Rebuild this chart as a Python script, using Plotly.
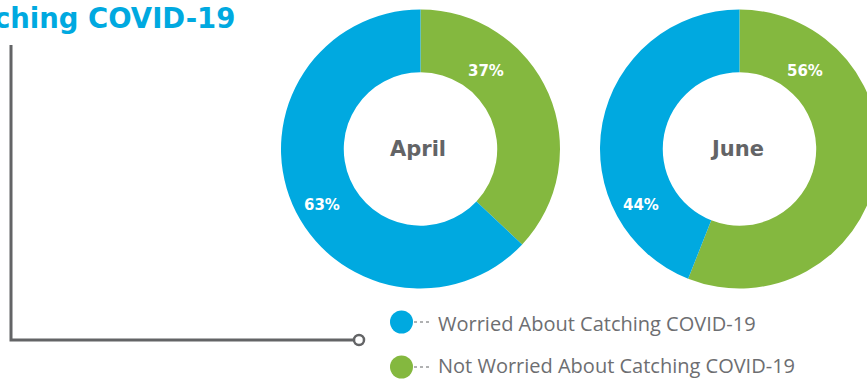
import plotly.graph_objects as go

# ---- data -------------------------------------------------------------
months = ["April", "June"]
worried = [63, 44]
not_worried = [37, 56]
series_names = ["Worried About Catching COVID-19", "Not Worried About Catching COVID-19"]
title_text = "Catching COVID-19"

# ---- styling ----------------------------------------------------------
W, H = 880, 380
BLUE = "#00A9E0"
GREEN = "#84B83F"
GRAY = "#636466"
TEXT_GRAY = "#6D6E71"
HEAVY = "DejaVu Sans"

ring_centers = [(420.5, 149), (739.5, 149)]   # pixel centres of the two rings
R = 139.5                                     # outer radius in px
HOLE = 0.55
# fixed label anchors relative to each ring centre (px)
label_offsets = {"not_worried": (65, -78), "worried": (-99, 56)}

fig = go.Figure()

annotations = []
for i, month in enumerate(months):
    cx, cy = ring_centers[i]
    fig.add_trace(go.Pie(
        labels=[series_names[1], series_names[0]],
        values=[not_worried[i], worried[i]],
        marker=dict(colors=[GREEN, BLUE], line=dict(width=0)),
        hole=HOLE,
        sort=False,
        direction="clockwise",
        rotation=0,
        textinfo="none",
        hoverinfo="label+percent",
        showlegend=False,
        domain=dict(x=[(cx - R) / W, (cx + R) / W],
                    y=[1 - (cy + R) / H, 1 - (cy - R) / H]),
    ))
    # month in the hole
    annotations.append(dict(
        x=cx - 3, y=cy, xref="x", yref="y", text=month, showarrow=False,
        xanchor="center", yanchor="middle",
        font=dict(family=HEAVY, size=21, weight=700, color=GRAY),
    ))
    # percentage labels
    for key, val in (("not_worried", not_worried[i]), ("worried", worried[i])):
        dx, dy = label_offsets[key]
        annotations.append(dict(
            x=cx + dx, y=cy + dy, xref="x", yref="y", text=f"{val}%",
            showarrow=False, xanchor="center", yanchor="middle",
            font=dict(family=HEAVY, size=15, weight=700, color="white"),
        ))

# title, right-aligned so the beginning runs off the left edge
annotations.append(dict(
    x=237, y=18, xref="x", yref="y", text=title_text, showarrow=False,
    xanchor="right", yanchor="middle",
    font=dict(family=HEAVY, size=27.5, weight=700, color=BLUE),
))

shapes = []
# connector bracket from the title down to the legend
shapes.append(dict(type="path", xref="x", yref="y",
                   path="M 11 45 L 11 340 L 354 340",
                   line=dict(color=GRAY, width=3)))
shapes.append(dict(type="circle", xref="x", yref="y",
                   x0=354, x1=364, y0=335, y1=345,
                   fillcolor="white", line=dict(color=GRAY, width=2.5)))

# legend rows: (label, colour, marker centre y, text centre y)
legend_rows = [(series_names[0], BLUE, 322, 323), (series_names[1], GREEN, 367, 365.5)]
for name, color, ly, ty in legend_rows:
    shapes.append(dict(type="circle", xref="x", yref="y",
                       x0=390, x1=413, y0=ly - 11.5, y1=ly + 11.5,
                       fillcolor=color, line=dict(width=0)))
    shapes.append(dict(type="line", xref="x", yref="y",
                       x0=414, x1=429, y0=ly, y1=ly,
                       line=dict(color=GRAY, width=1, dash="dot")))
    annotations.append(dict(
        x=436, y=ty, xref="x", yref="y", text=name, showarrow=False,
        xanchor="left", yanchor="middle",
        font=dict(family="Open Sans", size=20, weight=400, color=TEXT_GRAY),
    ))

fig.update_layout(
    width=W, height=H, autosize=False,
    margin=dict(l=0, r=0, t=0, b=0, pad=0),
    paper_bgcolor="white", plot_bgcolor="white",
    xaxis=dict(range=[0, W], visible=False, domain=[0, 1], fixedrange=True),
    yaxis=dict(range=[H, 0], visible=False, domain=[0, 1], fixedrange=True),
    shapes=shapes,
    annotations=annotations,
    showlegend=False,
)

fig.write_html(
    "out.html",
    post_script=("document.body.style.margin='0';"
                 "document.body.style.overflow='hidden';"
                 "document.documentElement.style.overflow='hidden';"),
)
